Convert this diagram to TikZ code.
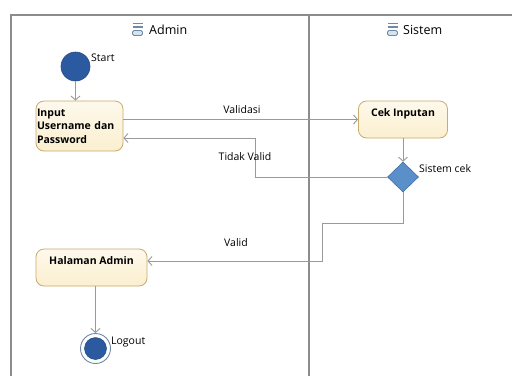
\documentclass[tikz,border=0pt]{standalone}
\usepackage{fontspec}
\setmainfont{Open Sans}
\usetikzlibrary{arrows.meta,shapes.geometric}
\definecolor{lanec}{HTML}{8C8C8C}
\definecolor{linec}{HTML}{9A9A9A}
\definecolor{boxfill}{HTML}{FBEFCF}
\definecolor{boxdraw}{HTML}{C8AC6A}
\definecolor{startc}{HTML}{2C5AA0}
\definecolor{diafill}{HTML}{5B8FC9}
\definecolor{diadraw}{HTML}{416FA3}
\definecolor{iconc}{HTML}{6F8AA6}
\definecolor{iconfill}{HTML}{D3E3F0}
\begin{document}
\begin{tikzpicture}[x=1pt,y=-1pt,
  font=\fontsize{10.5}{13.5}\selectfont,
  lane/.style={draw=lanec, line width=1.1pt},
  actbox/.style={draw=boxdraw, line width=0.8pt, rounded corners=8pt,
    top color=white!60!boxfill, bottom color=boxfill, inner sep=1pt,
    font=\fontsize{10.5}{13.5}\selectfont\bfseries},
  flow/.style={draw=linec, line width=0.9pt, -{Straight Barb[length=4pt,width=9pt]}},
  txt/.style={inner sep=0pt},
  title/.style={inner sep=0pt, font=\fontsize{12.5}{15}\selectfont},
  icon/.style={draw=iconc, line width=1.1pt}
]
\fill[white] (0,0) rectangle (512,376);
\useasboundingbox (0,0) rectangle (512,376);

% swimlanes
\draw[lane] (11,376) -- (11,15) -- (512,15);
\draw[lane] (309,15) -- (309,376);

% titles with icons
\node[title, anchor=west] (admintitle) at (149,30) {Admin};
\draw[icon] (132.5,23.5) -- (142.5,23.5);
\draw[icon] (132.5,27) -- (142.5,27);
\draw[draw=iconc, fill=iconfill, line width=0.9pt, rounded corners=1.5pt] (132.5,30.5) rectangle (142.5,35.5);
\node[title, anchor=west] (sistemtitle) at (403,30) {Sistem};
\draw[icon] (387.5,23.5) -- (397.5,23.5);
\draw[icon] (387.5,27) -- (397.5,27);
\draw[draw=iconc, fill=iconfill, line width=0.9pt, rounded corners=1.5pt] (387.5,30.5) rectangle (397.5,35.5);

% nodes
\node[circle, minimum size=29pt, inner sep=0pt, fill=startc, draw=startc!85!black, line width=0.6pt] (start) at (75.5,66.5) {};
\node[txt, anchor=west] (startlbl) at (91,58) {Start};

\node[actbox, minimum width=87pt, minimum height=50pt, text width=85pt, align=left] (input) at (79.5,126) {Input\\Username dan\\Password};

\node[actbox, minimum width=89pt, minimum height=37pt, align=center] (cek) at (403,119.5) {Cek Inputan\\\mbox{}};

\node[diamond, minimum width=31pt, minimum height=30pt, inner sep=0pt, fill=diafill, draw=diadraw, line width=0.6pt] (dec) at (403,177) {};
\node[txt, anchor=west] (declbl) at (419,169) {Sistem cek};

\node[actbox, minimum width=111pt, minimum height=37pt, align=center] (hal) at (91.5,267.5) {Halaman Admin\\\mbox{}};

\node[circle, minimum size=30pt, inner sep=0pt, fill=white, draw=iconc, line width=0.9pt] (end) at (95.5,348.5) {};
\node[circle, minimum size=22pt, inner sep=0pt, fill=startc, draw=startc!85!black, line width=0.5pt] (endin) at (end) {};
\node[txt, anchor=west] (endlbl) at (111,342) {Logout};

% connectors
\draw[flow] (start.south) -- (start.south |- input.north);
\draw[flow] (input.east |- cek.west) -- (cek.west);
\node[txt] (vallbl) at (242,110) {Validasi};
\draw[flow] (cek.south) -- (dec.north);

\coordinate (tv) at (255,138);
\draw[flow] (dec.west) -| (tv) -- (input.east |- tv);
\node[txt] (tvlbl) at (245,157) {Tidak Valid};

\coordinate (v1) at (322,223);
\coordinate (v2) at (322,261);
\draw[flow] (dec.south) |- (v1) -- (v2) -- (hal.east |- v2);
\node[txt] (vlbl) at (236,243) {Valid};

\draw[flow] (end |- hal.south) -- (end.north);
\end{tikzpicture}
\end{document}
